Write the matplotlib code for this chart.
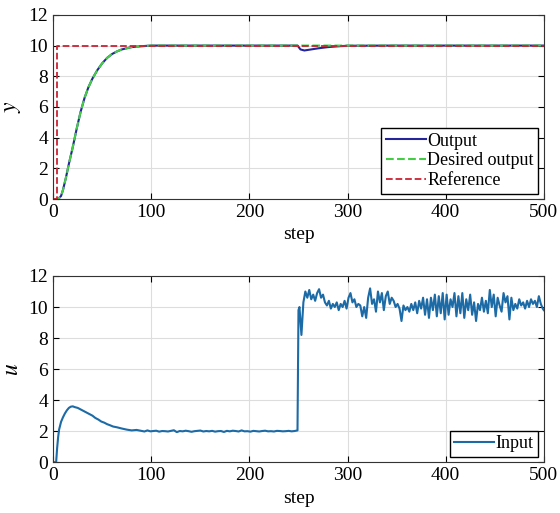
import numpy as np
import matplotlib.pyplot as plt

plt.rcParams['font.family'] = ['Liberation Serif', 'DejaVu Serif']
plt.rcParams['mathtext.fontset'] = 'stix'

# top panel: reference, desired output, output
ref_steps = [0, 4, 4, 500]
ref_vals = [0, 0, 10, 10]

des_steps = [0, 5, 8, 10, 13, 16, 20, 24, 28, 32, 36, 40, 45, 50, 55, 60,
             65, 70, 80, 90, 100, 150, 200, 250, 300, 350, 400, 450, 500]
des_vals = [0, 0, 0.2, 0.6, 1.4, 2.3, 3.4, 4.6, 5.7, 6.6, 7.3, 7.85, 8.4,
            8.85, 9.2, 9.45, 9.62, 9.75, 9.9, 9.96, 10, 10, 10, 10, 10, 10,
            10, 10, 10]

out_steps = [0, 5, 8, 10, 13, 16, 20, 24, 28, 32, 36, 40, 45, 50, 55, 60,
             65, 70, 80, 90, 100, 150, 200, 249, 252, 256, 262, 270, 280,
             290, 300, 350, 400, 450, 500]
out_vals = [0, 0, 0.2, 0.6, 1.4, 2.3, 3.4, 4.6, 5.7, 6.6, 7.3, 7.85, 8.4,
            8.85, 9.2, 9.45, 9.62, 9.75, 9.9, 9.96, 10, 10, 10, 10, 9.75,
            9.68, 9.74, 9.82, 9.9, 9.95, 9.99, 10, 10, 10, 10]

# bottom panel: control input
u_steps = [0, 3, 4, 5, 6, 8, 10, 12, 14, 16, 18, 20, 22, 25, 28, 31, 34, 37,
           40, 43, 46, 49, 52, 55, 58, 61, 65, 70, 75, 80, 85,
           90, 93, 96, 99, 102, 105, 108, 111, 114, 117, 120, 123, 126, 129,
           132, 135, 138, 141, 144, 147, 150, 153, 156, 159, 162, 165, 168,
           171, 174, 177, 180, 183, 186, 189, 192, 195, 198, 201, 204, 207,
           210, 213, 216, 219, 222, 225, 228, 231, 234, 237, 240, 243, 246,
           249, 250, 251, 253, 255, 257, 259, 261, 263, 265, 267, 269, 271,
           273, 275, 277, 279, 281, 283, 285, 287, 289, 291, 293, 295, 297,
           299, 301, 303, 305, 307, 309, 311, 313, 315, 317, 319, 321, 323,
           325, 327, 329, 331, 333, 335, 337, 339, 341, 343, 345, 347, 349,
           351, 353, 355, 357, 359, 361, 363, 365, 367, 369, 371, 373, 375,
           377, 379, 381, 383, 385, 387, 389, 391, 393, 395, 397, 399, 401,
           403, 405, 407, 409, 411, 413, 415, 417, 419, 421, 423, 425, 427,
           429, 431, 433, 435, 437, 439, 441, 443, 445, 447, 449, 451, 453,
           455, 457, 459, 461, 463, 465, 467, 469, 471, 473, 475, 477, 479,
           481, 483, 485, 487, 489, 491, 493, 495, 497, 499, 500]
u_vals = [0, 0, 0.9, 1.6, 2.1, 2.6, 2.9, 3.15, 3.35, 3.5, 3.58, 3.6, 3.55,
          3.5, 3.4, 3.3, 3.2, 3.1, 3.0, 2.85, 2.75, 2.62, 2.55, 2.45, 2.38,
          2.3, 2.25, 2.17, 2.1, 2.05, 2.08,
          2.02, 1.98, 2.05, 1.99, 2.01, 2.03, 1.97, 2.01, 2.0, 1.98, 2.02,
          2.06, 1.94, 2.01, 1.99, 2.03, 2.0, 1.96, 2.0, 2.02, 2.04, 1.98,
          2.01, 1.99, 2.02, 1.97, 2.0, 2.01, 1.95, 2.02, 1.99, 2.03, 2.01,
          1.98, 2.05, 1.99, 2.0, 1.97, 2.02, 2.0, 1.98, 2.01, 2.03, 1.99,
          2.0, 1.98, 2.02, 2.01, 1.99, 2.0, 2.02, 1.99, 2.01,
          2.05, 9.8, 10.0, 8.2, 10.3, 11.0, 10.6, 11.1, 10.5, 10.8, 10.4,
          10.9, 11.15, 10.6, 10.8, 10.3, 10.1, 10.4, 9.9, 10.2, 10.0, 10.3,
          9.8, 10.2, 10.0, 10.4, 9.9, 10.6, 10.9, 10.3, 10.5, 10.0, 10.2,
          10.1, 9.4, 10.0, 9.3, 10.6, 11.2, 10.2, 10.5, 9.7, 11.0, 10.3,
          10.9, 9.8, 10.7, 11.0, 10.2, 10.6, 10.4, 10.0, 10.2, 9.9, 9.1,
          10.1, 9.8, 10.0, 9.7, 10.2, 9.8, 10.3, 9.6, 10.4, 9.9, 10.6, 9.5,
          10.5, 9.3, 10.6, 9.8, 10.8, 9.4, 10.7, 9.6, 10.9, 9.2, 10.8, 9.5,
          10.5, 10.0, 10.9, 9.4, 10.7, 9.6, 10.9, 9.3, 10.5, 9.8, 10.8, 9.5,
          10.3, 9.1, 10.2, 9.8, 10.6, 9.7, 10.4, 9.6, 11.1, 10.0, 10.8, 9.4,
          10.6, 10.1, 9.7, 10.9, 10.3, 10.7, 9.2, 10.6, 9.8, 10.2, 9.9, 10.5,
          10.1, 10.3, 9.9, 10.4, 10.0, 10.5, 10.2, 10.4, 10.0, 10.7, 10.2,
          9.9, 9.8]

fig = plt.figure(figsize=(5.6, 5.13), dpi=100)
ax1 = fig.add_axes([0.095, 0.612, 0.876, 0.359])
ax2 = fig.add_axes([0.095, 0.099, 0.876, 0.363])

ax1.plot(out_steps, out_vals, color='#25259a', lw=1.5, label='Output')
ax1.plot(des_steps, des_vals, color='#44cc44', lw=1.5, ls='--',
         label='Desired output')
ax1.plot(ref_steps, ref_vals, color='#cc2233', lw=1.3, ls='--',
         label='Reference')
ax1.set_ylabel('$y$', fontsize=17)

ax2.plot(u_steps, u_vals, color='#1c6aa6', lw=1.5, label='Input')
ax2.set_ylabel('$u$', fontsize=17)

for ax in (ax1, ax2):
    ax.set_xlim(0, 500)
    ax.set_ylim(0, 12)
    ax.set_xticks(np.arange(0, 501, 100))
    ax.set_yticks(np.arange(0, 13, 2))
    ax.set_xlabel('step', fontsize=14)
    ax.grid(True, color='#dddddd', lw=0.8)
    ax.tick_params(direction='in', top=True, right=True, length=4,
                   labelsize=14)
    for sp in ax.spines.values():
        sp.set_color('#333333')
    ax.legend(loc='lower right', fontsize=13, fancybox=False,
              edgecolor='black', framealpha=1, handlelength=2.2,
              handletextpad=0.1, borderpad=0.25, labelspacing=0.15,
              borderaxespad=0.3)

fig.savefig('out.png')
